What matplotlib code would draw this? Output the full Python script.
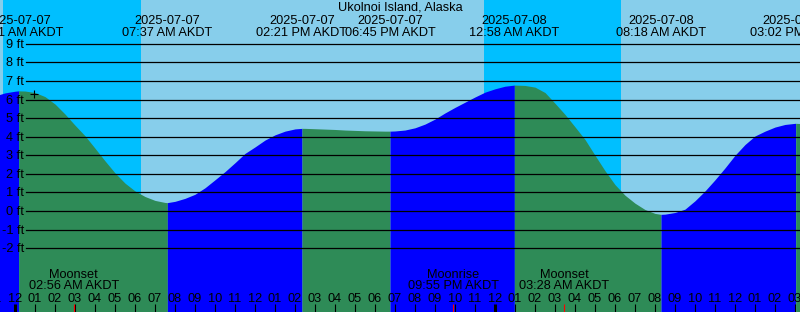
import numpy as np
import matplotlib
matplotlib.use('Agg')
import matplotlib.pyplot as plt
import matplotlib.transforms as mtransforms
import pandas as pd

plt.rcParams['font.family'] = ['Liberation Sans', 'DejaVu Sans']

title = 'Ukolnoi Island, Alaska'
start = pd.Timestamp('2025-07-07 00:00')

# tide height (ft) every half hour after 2025-07-07 00:00
hours = [i * 0.5 for i in range(-2, 80)]
heights = [6.20, 6.36, 6.45, 6.46, 6.38, 6.16, 5.76, 5.22, 4.62, 4.05,
           3.38, 2.70, 2.05, 1.50, 1.08, 0.78, 0.57, 0.46,
           0.52, 0.68, 0.90, 1.25, 1.68, 2.12, 2.60, 3.10, 3.45, 3.82,
           4.10, 4.30, 4.42,
           4.45, 4.43, 4.41, 4.39, 4.36, 4.34, 4.32, 4.31, 4.30,
           4.31, 4.36, 4.48, 4.68, 4.95, 5.28, 5.58, 5.86, 6.14, 6.40,
           6.58, 6.72, 6.78,
           6.76, 6.67, 6.38, 5.80, 5.20, 4.53, 3.85, 3.00, 2.17, 1.42,
           0.85, 0.42, 0.08, -0.13,
           -0.17, -0.08, 0.10, 0.55, 1.08, 1.68, 2.32, 3.00, 3.58, 4.04,
           4.30, 4.52, 4.66, 4.72, 4.70]

tide_times = ['2025-07-07 00:11', '2025-07-07 07:37', '2025-07-07 14:21',
              '2025-07-07 18:45', '2025-07-08 00:58', '2025-07-08 08:18',
              '2025-07-08 15:02']
tide_heights = [6.47, 0.45, 4.45, 4.30, 6.78, -0.18, 4.72]
tide_kind = ['high', 'low', 'high', 'low', 'high', 'low', 'high']

sun_times = ['2025-07-06 23:24', '2025-07-07 06:18', '2025-07-07 23:27', '2025-07-08 06:18']
sun_kind = ['set', 'rise', 'set', 'rise']

moon_times = ['2025-07-07 02:56', '2025-07-07 21:55', '2025-07-08 03:28']
moon_names = ['Moonset', 'Moonrise', 'Moonset']

now_time = '2025-07-07 00:57'
now_height = 6.30

ft_levels = list(range(-2, 10))

day_col = '#87CEEB'
night_col = '#00BFFF'
rise_col = '#0000FF'
fall_col = '#2E8B57'


def to_hours(ts):
    return (pd.to_datetime(pd.Series(ts)) - start) / pd.Timedelta(hours=1)


W, H = 800, 312
fig = plt.figure(figsize=(W / 100, H / 100), dpi=100)
ax = fig.add_axes([0, 0, 1, 1])
x0, x1 = -0.75, 39.25
ft_px = 18.57
zero_px = 211
y_top = zero_px / ft_px
y_bot = -(H - zero_px) / ft_px
ax.set_xlim(x0, x1)
ax.set_ylim(y_bot, y_top)
ax.axis('off')

fs = 9.2
xa = ax.get_xaxis_transform()   # x data, y axes
ya = ax.get_yaxis_transform()   # x axes, y data

# day / night background
sun_h = list(to_hours(sun_times))
edges = [x0] + sun_h + [x1]
for i in range(len(edges) - 1):
    night = i > 0 and sun_kind[i - 1] == 'set'
    ax.axvspan(edges[i], edges[i + 1], color=night_col if night else day_col, lw=0, zorder=0)

# tide curve, coloured by rising / falling
tide_h = list(to_hours(tide_times))
t_all = np.array(hours + tide_h, dtype=float)
h_all = np.array(heights + tide_heights, dtype=float)
order = np.argsort(t_all)
t_all, h_all = t_all[order], h_all[order]
bounds = [t_all[0]] + tide_h + [t_all[-1]]
for i in range(len(bounds) - 1):
    m = (t_all >= bounds[i]) & (t_all <= bounds[i + 1])
    rising = (i == 0 and tide_kind[0] == 'high') or (i > 0 and tide_kind[i - 1] == 'low')
    ax.fill_between(t_all[m], h_all[m], y_bot, color=rise_col if rising else fall_col,
                    lw=0, zorder=1)

# height grid and labels
lab_tr = mtransforms.offset_copy(ya, fig=fig, x=0, y=-4, units='dots')
for ft in ft_levels:
    ax.axhline(ft, xmin=26 / W, xmax=1, color='black', lw=0.9, zorder=2)
    ax.text(24 / W, ft, f'{ft} ft', transform=lab_tr, ha='right', va='baseline',
            fontsize=fs, zorder=4)

ax.plot(to_hours([now_time])[0], now_height, marker='+', ms=6, mew=0.8,
        color='black', zorder=3)


def row(px):
    return 1 - px / H


# title and tide event labels
ax.text(0.5, row(11), title, transform=ax.transAxes, ha='center', va='baseline', fontsize=fs)
for t, ts in zip(tide_h, pd.to_datetime(tide_times)):
    ax.text(t, row(24), ts.strftime('%Y-%m-%d'), transform=xa, ha='center', va='baseline', fontsize=fs)
    ax.text(t, row(36), ts.strftime('%I:%M %p') + ' AKDT', transform=xa, ha='center',
            va='baseline', fontsize=fs)

# moon events
moon_h = list(to_hours(moon_times))
for t, ts, name in zip(moon_h, pd.to_datetime(moon_times), moon_names):
    ax.text(t, row(278), name, transform=xa, ha='center', va='baseline', fontsize=fs, zorder=4)
    ax.text(t, row(289), ts.strftime('%I:%M %p') + ' AKDT', transform=xa, ha='center',
            va='baseline', fontsize=fs, zorder=4)

# hour ticks along the bottom
tick_hours = list(range(-1, 41))
normal = [h for h in tick_hours if h % 24 != 0]
midnight = [h for h in tick_hours if h % 24 == 0]
ax.vlines(normal, 0, 8 / H, transform=xa, color='black', lw=0.8, zorder=3)
ax.vlines(midnight, 0, 8 / H, transform=xa, color='black', lw=2.2, zorder=3)
ax.vlines(moon_h, 0, 8 / H, transform=xa, color='red', lw=0.8, zorder=3)
for h in tick_hours:
    ax.text(h, row(302), '%02d' % ((h % 12) or 12), transform=xa, ha='center',
            va='baseline', fontsize=fs, zorder=4)

fig.savefig('out.png', dpi=100)
